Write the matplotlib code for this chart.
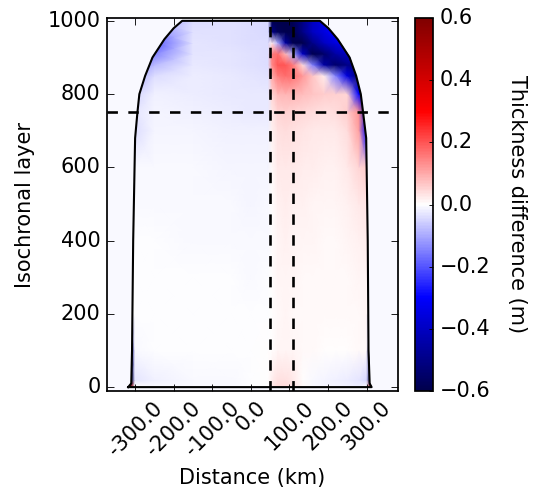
import numpy as np
import matplotlib.pyplot as plt
from matplotlib.colors import Normalize
from matplotlib.patches import Polygon

plt.style.use('classic')

# distance (km) of the grid columns, layer index of the grid rows
dist_km = [-330, -310, -300, -250, -150, -50, 0, 45, 55, 70, 90, 110,
           135, 160, 190, 220, 250, 280, 300, 310, 330]
layers = [0, 20, 100, 200, 300, 400, 500, 600, 700, 750, 800, 850,
          880, 910, 940, 970, 1000]

# thickness difference (m), one row per layer
diff_0 = [0.5, 0.5, 0.0, -0.008, -0.006, -0.005, -0.004, 0.0, 0.03, 0.045, 0.045, 0.035, 0.008, -0.005, -0.01, -0.012, -0.015, -0.02, 0.0, 0.5, 0.5]
diff_20 = [-0.6, -0.6, -0.03, -0.015, -0.008, -0.005, -0.004, 0.0, 0.02, 0.035, 0.035, 0.025, 0.004, -0.008, -0.012, -0.015, -0.02, -0.03, -0.05, -0.6, -0.6]
diff_100 = [-0.5, -0.5, -0.005, -0.003, -0.002, -0.002, -0.002, 0.0, 0.003, 0.01, 0.012, 0.01, 0.007, 0.005, 0.004, 0.004, 0.004, 0.006, 0.008, -0.5, -0.5]
diff_200 = [0.0, 0.0, -0.002, -0.002, -0.002, -0.002, -0.003, -0.002, 0.003, 0.008, 0.01, 0.009, 0.007, 0.006, 0.005, 0.005, 0.006, 0.008, 0.01, 0.0, 0.0]
diff_300 = [0.0, 0.0, -0.003, -0.003, -0.003, -0.004, -0.005, -0.003, 0.003, 0.01, 0.012, 0.011, 0.009, 0.008, 0.007, 0.007, 0.008, 0.012, 0.014, 0.0, 0.0]
diff_400 = [0.0, 0.0, -0.004, -0.004, -0.005, -0.006, -0.007, -0.005, 0.003, 0.013, 0.015, 0.014, 0.011, 0.01, 0.009, 0.009, 0.011, 0.018, 0.02, 0.0, 0.0]
diff_500 = [0.0, 0.0, -0.006, -0.006, -0.007, -0.008, -0.01, -0.008, 0.004, 0.017, 0.019, 0.018, 0.015, 0.013, 0.012, 0.012, 0.015, 0.026, 0.03, 0.0, 0.0]
diff_600 = [0.0, 0.0, -0.008, -0.008, -0.009, -0.011, -0.013, -0.012, 0.006, 0.024, 0.027, 0.025, 0.021, 0.019, 0.017, 0.018, 0.024, 0.05, 0.06, 0.0, 0.0]
diff_700 = [-0.3, -0.3, -0.04, -0.01, -0.012, -0.015, -0.018, -0.018, 0.015, 0.036, 0.04, 0.037, 0.032, 0.028, 0.026, 0.028, 0.04, 0.11, -0.3, -0.3, -0.3]
diff_750 = [0.0, 0.0, -0.03, -0.013, -0.016, -0.02, -0.024, -0.024, 0.025, 0.05, 0.055, 0.05, 0.044, 0.04, 0.037, 0.04, 0.06, 0.13, -0.4, -0.4, 0.0]
diff_800 = [0.0, 0.0, -0.05, -0.018, -0.02, -0.025, -0.028, -0.028, 0.05, 0.08, 0.085, 0.085, 0.075, 0.07, 0.06, 0.055, 0.05, -0.3, -0.5, -0.5, 0.0]
diff_850 = [0.0, 0.0, -0.1, -0.04, -0.023, -0.028, -0.032, -0.035, 0.1, 0.15, 0.17, 0.16, 0.12, 0.07, 0.02, -0.15, -0.35, -0.55, -0.5, -0.5, 0.0]
diff_880 = [0.0, 0.0, -0.15, -0.08, -0.026, -0.03, -0.035, -0.038, 0.14, 0.2, 0.2, 0.15, 0.04, -0.15, -0.45, -0.55, -0.5, -0.5, -0.5, -0.5, 0.0]
diff_910 = [0.0, 0.0, -0.2, -0.15, -0.03, -0.032, -0.036, -0.04, 0.15, 0.17, 0.08, -0.1, -0.4, -0.6, -0.55, -0.45, -0.4, -0.4, -0.4, -0.4, 0.0]
diff_940 = [0.0, 0.0, -0.2, -0.2, -0.032, -0.034, -0.038, -0.042, 0.02, -0.1, -0.45, -0.6, -0.6, -0.5, -0.4, -0.35, -0.3, -0.3, -0.3, -0.3, 0.0]
diff_970 = [0.0, 0.0, -0.15, -0.15, -0.035, -0.036, -0.04, -0.045, -0.5, -0.58, -0.6, -0.6, -0.5, -0.4, -0.35, -0.3, -0.3, -0.3, -0.3, -0.3, 0.0]
diff_1000 = [0.0, 0.0, -0.1, -0.1, -0.04, -0.036, -0.04, -0.045, -0.6, -0.6, -0.6, -0.58, -0.5, -0.4, -0.35, -0.3, -0.3, -0.3, -0.3, -0.3, 0.0]
outside_value = -0.006

# edge of the layered region
outline_layer = [0, 10, 100, 400, 680, 750, 800, 850, 900, 950, 980, 1000]
outline_left = [-318, -310, -308, -305, -300, -294, -289, -274, -255, -224, -200, -178]
outline_right = [313, 308, 305, 303, 299, 291, 285, 273, 256, 225, 201, 179]

# dashed section lines
section_x = [50, 110]
section_layer = 750

xticks = [-300, -200, -100, 0, 100, 200, 300]
xtick_labels = ['%.1f' % t for t in xticks]
yticks = [0, 200, 400, 600, 800, 1000]
cbar_ticks = [-0.6, -0.4, -0.2, 0.0, 0.2, 0.4, 0.6]

diff = np.array([diff_0, diff_20, diff_100, diff_200, diff_300, diff_400,
                 diff_500, diff_600, diff_700, diff_750, diff_800, diff_850,
                 diff_880, diff_910, diff_940, diff_970, diff_1000])

fig = plt.figure(figsize=(534 / 125, 501 / 125), dpi=125, facecolor='white')
ax = fig.add_axes([0.201, 0.22, 0.544, 0.7435])
cax = fig.add_axes([0.777, 0.22, 0.034, 0.7435])

norm = Normalize(vmin=-0.6, vmax=0.6)
cmap = plt.get_cmap('seismic')
ax.set_facecolor(cmap(norm(outside_value)))

X, Y = np.meshgrid(dist_km, layers)
mesh = ax.pcolormesh(X, Y, diff, cmap=cmap, norm=norm, shading='gouraud')

px = outline_left + outline_right[::-1] + [outline_left[0]]
py = outline_layer + outline_layer[::-1] + [outline_layer[0]]
clip = Polygon(np.column_stack([px, py]), closed=True, facecolor='none',
               edgecolor='none')
ax.add_patch(clip)
mesh.set_clip_path(clip)
ax.plot(px, py, color='k', lw=1.2)

for xv in section_x:
    ax.axvline(xv, color='k', lw=1.5, ls='--', dashes=(6, 6))
ax.axhline(section_layer, color='k', lw=1.5, ls='--', dashes=(6, 6))

ax.set_xlim(-372, 381)
ax.set_ylim(-10, 1007)
ax.set_xticks(xticks)
ax.set_xticklabels(xtick_labels, rotation=45)
ax.set_yticks(yticks)
ax.set_xlabel('Distance (km)')
ax.set_ylabel('Isochronal layer', labelpad=7)

cbar = fig.colorbar(mesh, cax=cax, ticks=cbar_ticks)
cbar.ax.tick_params(length=2.5)
cbar.set_label('Thickness difference (m)', rotation=270, labelpad=21)

fig.savefig('out.png', dpi=125, facecolor='white')
